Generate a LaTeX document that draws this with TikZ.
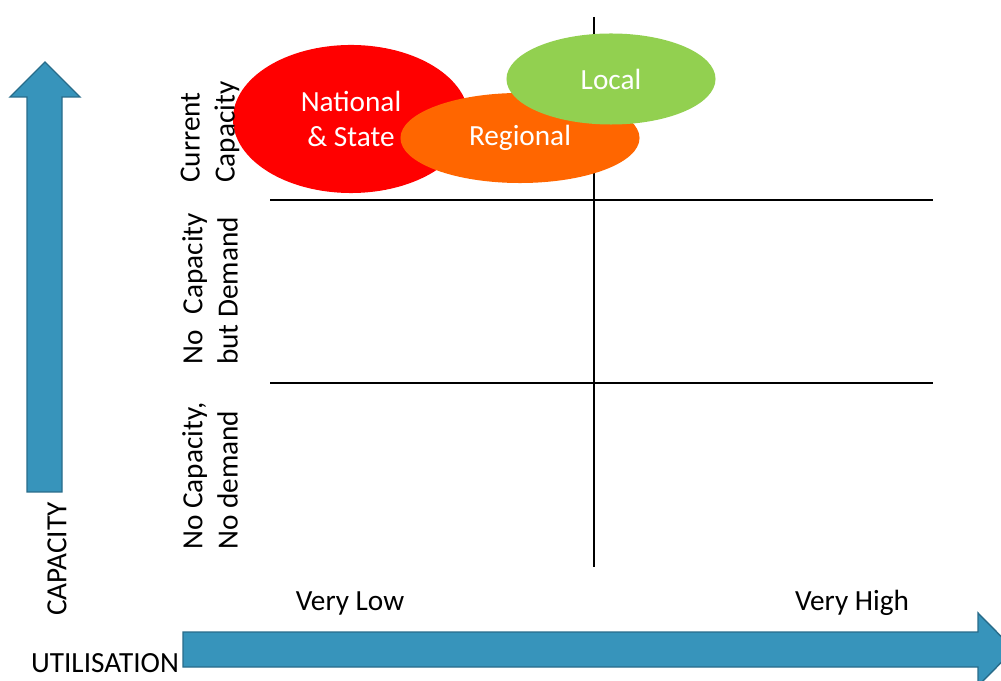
\documentclass[tikz,border=0pt]{standalone}
\usepackage{fontspec}
\setmainfont{Carlito}
\usepackage{tikz}
\usetikzlibrary{shapes.geometric}

\definecolor{arrowblue}{RGB}{55,148,187}
\definecolor{arrowedge}{RGB}{40,108,138}
\definecolor{nationalred}{RGB}{255,0,0}
\definecolor{regionalorange}{RGB}{255,102,0}
\definecolor{localgreen}{RGB}{146,208,80}

\tikzset{
  bigarrow/.style={fill=arrowblue, draw=arrowedge, line width=1pt},
  blob/.style={ellipse, inner sep=0pt, text=white, align=center},
  rowlabel/.style={rotate=90, anchor=west, align=left, inner sep=0pt}
}

\begin{document}
\begin{tikzpicture}[x=0.025cm, y=-0.025cm, every node/.style={font=\fontsize{20.8}{25}\selectfont}]
    \useasboundingbox (0,0) rectangle (1001,681);

    % Grid
    \draw[line width=1.2pt] (594,17) -- (594,567);
    \draw[line width=1.2pt] (270,200) -- (933,200);
    \draw[line width=1.2pt] (270,383) -- (933,383);

    % Axes
    \filldraw[bigarrow] (27,492) -- (27,97) -- (10,97) -- (45,62) -- (80,97) -- (62,97) -- (62,492) -- cycle;
    \filldraw[bigarrow] (183,632) -- (978,632) -- (978,613) -- (1014,649.5) -- (978,686) -- (978,667) -- (183,667) -- cycle;

    % Nodes
    \node[blob, fill=nationalred, minimum width=5.9cm, minimum height=3.7cm] (national) at (351,119) {National\\\& State};
    \node[blob, fill=regionalorange, minimum width=5.975cm, minimum height=2.25cm] (regional) at (520,138) {\raisebox{-2pt}{Regional}};
    \node[blob, fill=localgreen, minimum width=5.225cm, minimum height=2.275cm] (local) at (611,79) {Local};

    \node[rowlabel] (current) at (210,183) {Current\\Capacity};
    \node[rowlabel] (demand) at (210,365) {No\hspace{0.55em}Capacity\\but Demand};
    \node[rowlabel] (nodemand) at (210,550) {No Capacity,\\No demand};

    \node[rotate=90] (capacity) at (57,559) {CAPACITY};
    \node[inner sep=0pt] (utilisation) at (105,663) {UTILISATION};
    \node (verylow) at (350,603) {Very Low};
    \node (veryhigh) at (852,603) {Very High};

\end{tikzpicture}
\end{document}
